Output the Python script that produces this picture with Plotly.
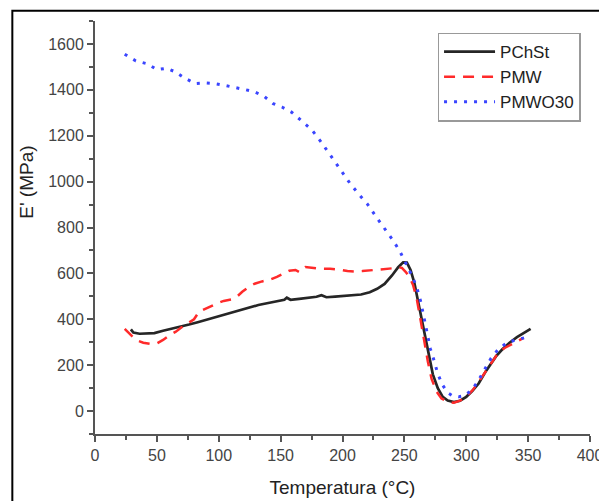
import plotly.graph_objects as go

# ---- data ----
x_pchst = [29, 31, 36, 42, 48, 55, 62, 69, 76, 83, 90, 97, 104, 111, 118, 125, 132, 139, 146,
           153, 155, 158, 165, 172, 179, 183, 187, 194, 201, 208, 215, 222, 228, 234, 240, 245,
           249, 252, 255, 258, 261, 264, 267, 270, 273, 277, 281, 285, 290, 295, 300, 305, 310,
           316, 320, 324, 329, 335, 341, 347, 352]
y_pchst = [356, 342, 337, 338, 340, 350, 358, 367, 377, 387, 398, 408, 418, 430, 442, 452, 462, 470, 477,
           485, 494, 485, 489, 493, 498, 505, 496, 499, 501, 503, 508, 518, 533, 554, 591, 627,
           648, 647, 615, 560, 480, 400, 310, 230, 160, 100, 62, 46, 39, 45, 62, 88, 120,
           175, 205, 238, 268, 298, 322, 342, 358]

x_pmw = [24, 28, 33, 39, 45, 50, 55, 60, 65, 70, 76, 80, 84, 88, 92, 98, 104, 110, 115, 119, 124,
         129, 135, 141, 147, 152, 157, 162, 165, 170, 176, 182, 190, 197, 204, 210, 216, 222, 228,
         234, 240, 245, 248, 251, 254, 257, 260, 263, 266, 269, 272, 276, 280, 285, 290, 295, 300,
         305, 311, 316, 321, 326, 331, 336, 341, 346]
y_pmw = [358, 335, 310, 298, 293, 295, 310, 330, 345, 365, 385, 400, 432, 443, 452, 468, 480, 486, 500, 520, 540,
         555, 565, 572, 585, 598, 612, 615, 606, 628, 623, 620, 620, 617, 610, 608, 610, 613, 616,
         618, 622, 627, 624, 607, 585, 550, 490, 400, 300, 215, 140, 85, 55, 40, 36, 45, 62,
         90, 135, 175, 215, 255, 275, 290, 305, 318]

x_pmwo30 = [24, 33, 42, 50, 58, 65, 72, 81, 89, 97, 106, 114, 122, 129, 137, 144, 151, 159, 167, 175,
            182, 188, 194, 200, 206, 213, 220, 227, 234, 240, 246, 250, 254, 257, 260, 263, 265, 268,
            271, 274, 277, 281, 285, 289, 294, 299, 304, 309, 314, 320, 326, 333, 340, 349]
y_pmwo30 = [1555, 1526, 1514, 1488, 1494, 1478, 1453, 1427, 1430, 1427, 1418, 1410, 1400, 1391, 1370, 1340,
            1325, 1302, 1264, 1227, 1178, 1132, 1082, 1041, 993, 946, 903, 848, 797, 750, 700, 656, 615,
            580, 539, 481, 430, 350, 271, 220, 162, 112, 80, 66, 62, 68, 90, 125, 170, 230, 270, 298,
            310, 322]

x_ticks = [0, 50, 100, 150, 200, 250, 300, 350, 400]
y_ticks = [0, 200, 400, 600, 800, 1000, 1200, 1400, 1600]

FONT = "Arial, 'Liberation Sans', sans-serif"

fig = go.Figure()
fig.add_trace(go.Scatter(x=x_pchst, y=y_pchst, name="PChSt", mode="lines",
                         line=dict(color="#262626", width=2.7)))
fig.add_trace(go.Scatter(x=x_pmw, y=y_pmw, name="PMW", mode="lines",
                         line=dict(color="#ff2a2a", width=2.5, dash="11px,8px")))
fig.add_trace(go.Scatter(x=x_pmwo30, y=y_pmwo30, name="PMWO30", mode="lines",
                         line=dict(color="#3a45ff", width=3, dash="3px,7px")))

axis_common = dict(showline=True, linecolor="#555555", linewidth=2, showgrid=False, zeroline=False,
                   ticks="outside", ticklen=6, tickwidth=1.5, tickcolor="#555555",
                   tickfont=dict(family=FONT, size=16, color="#444444"), mirror=False)

# page has an 8px body margin, so the plot area is placed to land where the reference has it
fig.update_layout(
    width=607, height=501,
    margin=dict(l=87, r=20, t=13, b=75),
    paper_bgcolor="white", plot_bgcolor="white",
    showlegend=True,
    legend=dict(x=0.692, y=0.972, xanchor="left", yanchor="top",
                bgcolor="white", bordercolor="#999999", borderwidth=1.5,
                font=dict(family=FONT, size=17, color="#222222"),
                itemwidth=51, tracegroupgap=0),
    xaxis=dict(range=[0, 400], tickvals=x_ticks, ticktext=[str(v) for v in x_ticks],
               minor=dict(dtick=25, tick0=0, ticklen=4, tickwidth=1.5, tickcolor="#555555", ticks="outside"),
               title=dict(text="Temperatura (°C)", font=dict(family=FONT, size=19, color="#222222"),
                          standoff=17),
               **axis_common),
    yaxis=dict(range=[-100, 1700], tickvals=y_ticks, ticktext=[str(v) for v in y_ticks],
               minor=dict(dtick=100, tick0=0, ticklen=4, tickwidth=1.5, tickcolor="#555555", ticks="outside"),
               **axis_common),
    annotations=[dict(text="E' (MPa)", textangle=-90, xref="paper", yref="paper",
                      x=-0.14, y=0.61, xanchor="center", yanchor="middle", showarrow=False,
                      font=dict(family=FONT, size=19, color="#222222"))],
    shapes=[dict(type="rect", xref="paper", yref="paper", x0=-0.167, x1=1.2, y0=-0.4, y1=1.025,
                 line=dict(color="black", width=2), fillcolor="rgba(0,0,0,0)", layer="above")],
)

fig.write_html("out.html")
